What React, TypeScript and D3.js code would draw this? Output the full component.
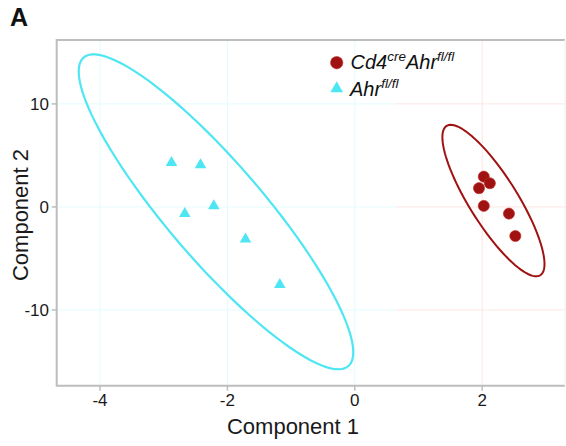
import React from "react";
import * as d3 from "d3";

// Component scores
const cd4X = [2.025, 2.12, 1.95, 2.025, 2.42, 2.52];
const cd4Y = [2.94, 2.3, 1.82, 0.1, -0.65, -2.82];
const ahrX = [-2.878, -2.422, -2.213, -2.669, -1.716, -1.177];
const ahrY = [4.3, 4.08, 0.1, -0.65, -3.14, -7.54];

const xTicks = [-4, -2, 0, 2];
const yTicks = [-10, 0, 10];
const xDomain = [-4.68, 3.3];
const yDomain = [-17.35, 16.2];

// 95% normal data ellipse: radius = sqrt(2 * qf(0.95, 2, n-1)), n = 6
const F_95_2_5 = 5.7861;

const RED = "#a01212";
const CYAN = "#4fe6f4";
const FONT = "'Liberation Sans', Arial, Helvetica, sans-serif";

const W = 566;
const H = 446;
const left = 56.7;
const right = 565;
const top = 40;
const bottom = 385.7;

function ellipsePoints(xs: number[], ys: number[]) {
  const n = xs.length;
  const mx = d3.mean(xs)!;
  const my = d3.mean(ys)!;
  let sxx = 0, syy = 0, sxy = 0;
  for (let i = 0; i < n; i++) {
    sxx += (xs[i] - mx) ** 2;
    syy += (ys[i] - my) ** 2;
    sxy += (xs[i] - mx) * (ys[i] - my);
  }
  sxx /= n - 1;
  syy /= n - 1;
  sxy /= n - 1;
  const a = Math.sqrt(sxx);
  const b = sxy / a;
  const c = Math.sqrt(syy - b * b);
  const r = Math.sqrt(2 * F_95_2_5);
  const pts: [number, number][] = [];
  for (let k = 0; k <= 100; k++) {
    const t = (k / 100) * 2 * Math.PI;
    const ct = Math.cos(t), st = Math.sin(t);
    pts.push([mx + r * a * ct, my + r * (b * ct + c * st)]);
  }
  return pts;
}

export default function App() {
  const x = d3.scaleLinear().domain(xDomain).range([left, right]);
  const y = d3.scaleLinear().domain(yDomain).range([bottom, top]);
  const line = d3
    .line<[number, number]>()
    .x((d) => x(d[0]))
    .y((d) => y(d[1]))
    .curve(d3.curveLinearClosed);
  const tri = d3.symbol().type(d3.symbolTriangle).size(58)()!;
  const triLegend = d3.symbol().type(d3.symbolTriangle).size(70)()!;
  const split = 396;
  const gridCyan = "#e3fbfd";
  const gridPink = "#fde6e6";

  return (
    <svg
      width={W}
      height={H}
      style={{ position: "absolute", left: 0, top: 0, background: "#fff" }}
      fontFamily={FONT}
    >
      <rect x={0} y={0} width={W} height={H} fill="#fff" />
      {/* grid */}
      {yTicks.map((t) => (
        <g key={"gy" + t}>
          <line x1={left} x2={split} y1={y(t)} y2={y(t)} stroke={gridCyan} strokeWidth={1} />
          <line x1={split} x2={right} y1={y(t)} y2={y(t)} stroke={gridPink} strokeWidth={1} />
        </g>
      ))}
      {xTicks.map((t) => (
        <line
          key={"gx" + t}
          x1={x(t)}
          x2={x(t)}
          y1={top}
          y2={bottom}
          stroke={x(t) < split ? gridCyan : gridPink}
          strokeWidth={1}
        />
      ))}
      {/* ellipses */}
      <path d={line(ellipsePoints(ahrX, ahrY))!} fill="none" stroke={CYAN} strokeWidth={2.2} />
      <path d={line(ellipsePoints(cd4X, cd4Y))!} fill="none" stroke={RED} strokeWidth={2} />
      {/* points */}
      {ahrX.map((v, i) => (
        <path key={"a" + i} d={tri} transform={`translate(${x(v)},${y(ahrY[i])})`} fill={CYAN} />
      ))}
      {cd4X.map((v, i) => (
        <circle key={"c" + i} cx={x(v)} cy={y(cd4Y[i])} r={5.6} fill={RED} stroke="#c0302a" strokeWidth={0.6} />
      ))}
      {/* panel border */}
      <path
        d={`M${right},${top}H${left}V${bottom}H${right}`}
        fill="none"
        stroke="#bdbdbd"
        strokeWidth={2}
      />
      <line x1={right} x2={right} y1={top} y2={bottom} stroke="#f2eeee" strokeWidth={1} />
      {/* ticks */}
      {yTicks.map((t) => (
        <g key={"ty" + t}>
          <line x1={left - 5} x2={left} y1={y(t)} y2={y(t)} stroke="#bdbdbd" strokeWidth={1.5} />
          <text x={49} y={y(t)} dy="0.35em" textAnchor="end" fontSize={17} fill="#1a1a1a">
            {t}
          </text>
        </g>
      ))}
      {xTicks.map((t) => (
        <g key={"tx" + t}>
          <line x1={x(t)} x2={x(t)} y1={bottom} y2={bottom + 5} stroke="#bdbdbd" strokeWidth={1.5} />
          <text x={x(t)} y={406} textAnchor="middle" fontSize={17} fill="#1a1a1a">
            {t}
          </text>
        </g>
      ))}
      {/* axis titles */}
      <text x={293} y={434} textAnchor="middle" fontSize={22} fill="#1a1a1a">
        Component 1
      </text>
      <text
        transform={`translate(28,215) rotate(-90)`}
        textAnchor="middle"
        fontSize={22}
        fill="#1a1a1a"
      >
        Component 2
      </text>
      {/* panel label */}
      <text x={10} y={26} fontSize={25} fontWeight="bold" fill="#111">
        A
      </text>
      {/* legend */}
      <circle cx={336.7} cy={62.7} r={6.2} fill={RED} stroke="#c0302a" strokeWidth={0.6} />
      <path d={triLegend} transform="translate(336.7,88.5)" fill={CYAN} />
      <text x={350.5} y={69.3} fontSize={20} fontStyle="italic" fill="#111">
        Cd4
        <tspan fontSize={13.5} dy={-8}>cre</tspan>
        <tspan fontSize={20} dy={8}>Ahr</tspan>
        <tspan fontSize={13.5} dy={-8}>fl/fl</tspan>
      </text>
      <text x={350} y={96} fontSize={20} fontStyle="italic" fill="#111">
        Ahr
        <tspan fontSize={13.5} dy={-8}>fl/fl</tspan>
      </text>
    </svg>
  );
}
